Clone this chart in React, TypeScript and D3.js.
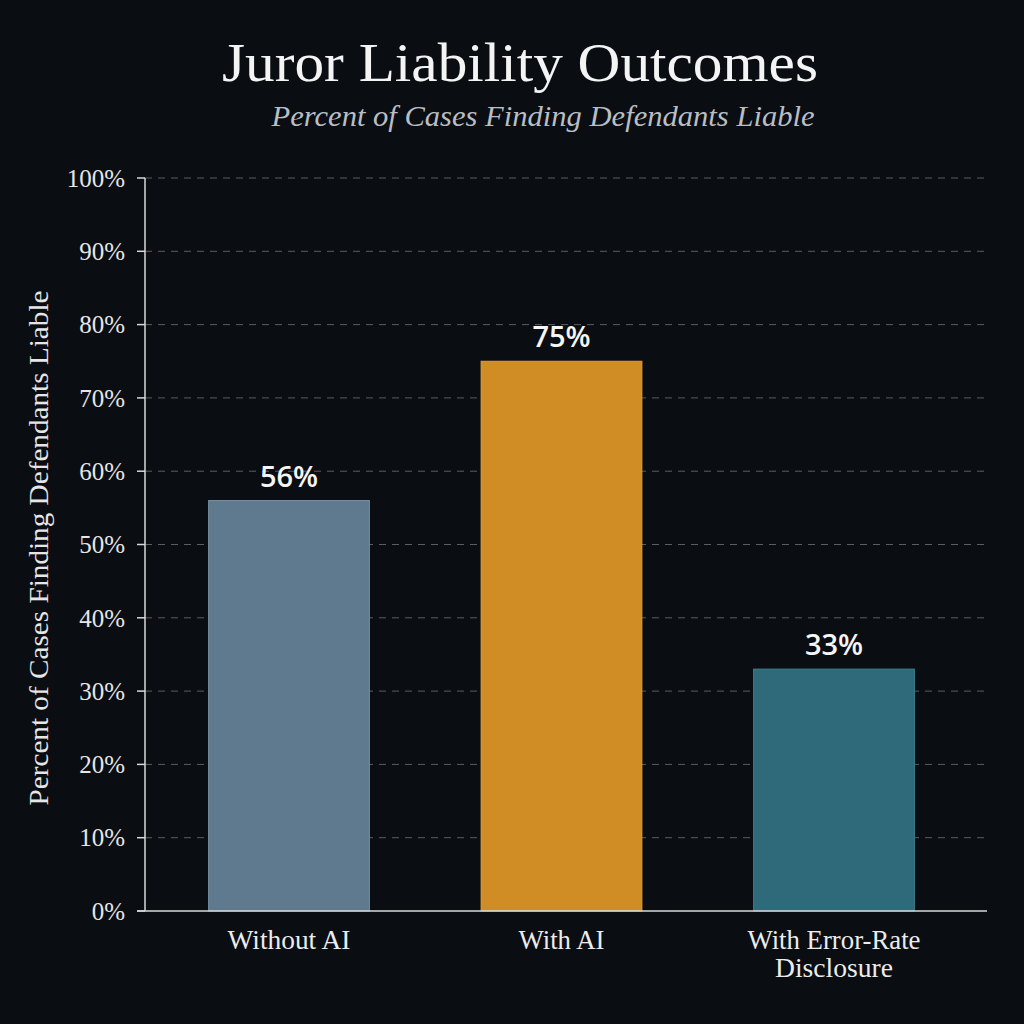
import React, { useEffect } from "react";
import * as d3 from "d3";

const categories = ["Without AI", "With AI", "With Error-Rate Disclosure"];
const labelLines = [["Without AI"], ["With AI"], ["With Error-Rate", "Disclosure"]];
const labelWidths = [[123], [86], [173, 118]];
const values = [56, 75, 33];
const barColors = ["#5f7a8f", "#d08c25", "#2e6a79"];
const barStrokes = ["#7890a3", "#e0a040", "#3f8090"];
const yTicks = [0, 10, 20, 30, 40, 50, 60, 70, 80, 90, 100];

const W = 1024;
const H = 1024;
const left = 145;
const right = 987;
const top = 178;
const bottom = 911;
const serif = "'Liberation Serif', 'Times New Roman', serif";

export default function App() {
  useEffect(() => {
    document.body.style.margin = "0";
    document.body.style.background = "#0a0d12";
  }, []);

  const x = d3
    .scaleBand<string>()
    .domain(categories)
    .range([left, right])
    .paddingInner(0.41)
    .paddingOuter(0.25)
    .align(0.467);
  const y = d3.scaleLinear().domain([0, 100]).range([bottom, top]);

  return (
    <svg width={W} height={H} viewBox={`0 0 ${W} ${H}`} style={{ display: "block" }}>
      <rect x={0} y={0} width={W} height={H} fill="#0a0d12" />
      <text
        x={520}
        y={81}
        textAnchor="middle"
        fill="#f4f4f4"
        fontFamily={serif}
        fontSize={55}
        textLength={596}
        lengthAdjust="spacingAndGlyphs"
      >
        Juror Liability Outcomes
      </text>
      <text
        x={543}
        y={126}
        textAnchor="middle"
        fill="#b9bec4"
        fontFamily={serif}
        fontStyle="italic"
        fontSize={29}
        textLength={543}
        lengthAdjust="spacingAndGlyphs"
      >
        Percent of Cases Finding Defendants Liable
      </text>

      {yTicks.map((t) => (
        <g key={t}>
          {t > 0 && (
            <line x1={left} x2={right} y1={y(t)} y2={y(t)} stroke="#5a5d62" strokeWidth={1} strokeDasharray="7,6" />
          )}
          <line x1={137} x2={left} y1={y(t)} y2={y(t)} stroke="#d8d8d8" strokeWidth={1.5} />
          <text x={125} y={y(t)} dy="0.35em" textAnchor="end" fill="#e6e6e6" fontFamily={serif} fontSize={25}>
            {t}%
          </text>
        </g>
      ))}

      {categories.map((c, i) => (
        <g key={c}>
          <rect
            x={x(c)}
            y={y(values[i])}
            width={x.bandwidth()}
            height={y(0) - y(values[i])}
            fill={barColors[i]}
            stroke={barStrokes[i]}
            strokeWidth={1}
          />
          <text
            x={(x(c) as number) + x.bandwidth() / 2}
            y={y(values[i]) - 14}
            textAnchor="middle"
            fill="#f6f6f6"
            fontFamily="'Open Sans', sans-serif"
            fontWeight={600}
            fontSize={29}
          >
            {values[i]}%
          </text>
          {labelLines[i].map((ln, j) => (
            <text
              key={j}
              x={(x(c) as number) + x.bandwidth() / 2}
              y={949 + j * 28}
              textAnchor="middle"
              fill="#ececec"
              fontFamily={serif}
              fontSize={27}
              textLength={labelWidths[i][j]}
              lengthAdjust="spacingAndGlyphs"
            >
              {ln}
            </text>
          ))}
        </g>
      ))}

      <line x1={left} x2={left} y1={top} y2={bottom} stroke="#d8d8d8" strokeWidth={1.5} />
      <line x1={137} x2={right} y1={bottom} y2={bottom} stroke="#d8d8d8" strokeWidth={1.5} />

      <text
        transform={`translate(48, 548) rotate(-90)`}
        textAnchor="middle"
        fill="#e6e6e6"
        fontFamily={serif}
        fontSize={27}
        textLength={515}
        lengthAdjust="spacingAndGlyphs"
      >
        Percent of Cases Finding Defendants Liable
      </text>
    </svg>
  );
}
